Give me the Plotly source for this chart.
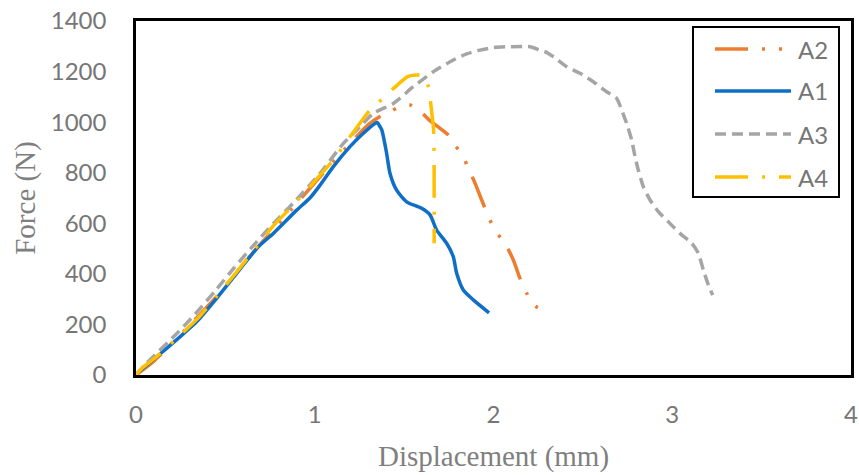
import plotly.graph_objects as go

# Force-displacement curves for four specimens
a1_x = [0, 0.02, 0.116, 0.246, 0.34, 0.451, 0.563, 0.638, 0.684, 0.768, 0.899, 0.973,
        1.029, 1.104, 1.197, 1.272, 1.337, 1.351, 1.365, 1.375, 1.402, 1.421, 1.458,
        1.514, 1.598, 1.645, 1.682, 1.738, 1.775, 1.794, 1.831, 1.887, 1.975]
a1_y = [0, 15, 72, 151, 211, 303, 402, 468, 507, 560, 652, 700, 750, 824, 903, 956,
        995, 998, 982, 969, 877, 797, 731, 685, 659, 633, 573, 521, 468, 402, 336, 297, 246]

a2_x = [0, 0.1, 0.25, 0.45, 0.65, 0.85, 1.0, 1.15, 1.3, 1.36, 1.421, 1.477, 1.533,
        1.593, 1.641, 1.701, 1.747, 1.785, 1.831, 1.859, 1.897, 1.934, 1.98, 2.018,
        2.064, 2.111, 2.148, 2.186, 2.223, 2.256]
a2_y = [0, 55, 160, 310, 480, 640, 760, 880, 990, 1020, 1041, 1062, 1068, 1041, 1008,
        975, 949, 909, 863, 817, 758, 692, 613, 563, 521, 455, 382, 323, 277, 264]

a3_x = [0, 0.05, 0.1, 0.23, 0.33, 0.44, 0.55, 0.66, 0.77, 0.88, 1.029, 1.16, 1.253,
        1.328, 1.44, 1.551, 1.663, 1.775, 1.85, 1.924, 2.0, 2.074, 2.204, 2.26, 2.288,
        2.335, 2.41, 2.484, 2.558, 2.633, 2.689, 2.717, 2.745, 2.773, 2.792, 2.81,
        2.838, 2.876, 2.922, 2.978, 3.043, 3.109, 3.146, 3.174, 3.202, 3.226]
a3_y = [0, 40, 75, 165, 240, 330, 425, 515, 600, 680, 797, 916, 982, 1035, 1074, 1140,
        1199, 1246, 1270, 1285, 1295, 1298, 1298, 1285, 1279, 1259, 1219, 1193, 1160,
        1120, 1094, 1048, 995, 929, 863, 811, 745, 692, 646, 606, 560, 521, 481, 415,
        356, 316]

a4_x = [0, 0.03, 0.12, 0.25, 0.34, 0.45, 0.56, 0.656, 0.768, 0.88, 0.973, 1.104, 1.197,
        1.309, 1.36, 1.44, 1.52, 1.57, 1.607, 1.636, 1.655, 1.665, 1.668, 1.668]
a4_y = [0, 25, 75, 160, 220, 310, 405, 490, 590, 672, 745, 850, 942, 1048, 1080, 1133,
        1180, 1186, 1186, 1140, 1035, 969, 771, 521]

x_ticks = [0, 1, 2, 3, 4]
y_ticks = [0, 200, 400, 600, 800, 1000, 1200, 1400]

ORANGE = "#ED7D31"
BLUE = "#0F6FC6"
GRAY = "#A5A5A5"
YELLOW = "#FFC000"

series = [
    ("A2", a2_x, a2_y, ORANGE, "33px,14px,3px,14px,3px,14px"),
    ("A1", a1_x, a1_y, BLUE, "solid"),
    ("A3", a3_x, a3_y, GRAY, "11px,6px"),
    ("A4", a4_x, a4_y, YELLOW, "33px,14px,3px,14px"),
]

W, H = 859, 475
ML, MR, MT, MB = 136, 8, 21, 100
# plotting box in page pixels, used to place the framed legend
BOX_L, BOX_R, BOX_T, BOX_B = ML, W - MR, MT, H - MB


def px(xp):
    return (xp - BOX_L) / (BOX_R - BOX_L)


def py(yp):
    return (BOX_B - yp) / (BOX_B - BOX_T)


fig = go.Figure()
for name, xs, ys, color, dash in series:
    fig.add_trace(go.Scatter(x=xs, y=ys, mode="lines", name=name, showlegend=False,
                             line=dict(color=color, width=3.5, dash=dash, shape="spline",
                                       smoothing=0.6)))

# Framed legend drawn with shapes and text
shapes = [dict(type="rect", xref="paper", yref="paper",
               x0=px(693), x1=px(839), y0=py(197), y1=py(27),
               line=dict(color="black", width=2), fillcolor="white", layer="above")]
annotations = []
row_y = [49, 91, 134, 177]
for (name, _, _, color, dash), ry in zip(series, row_y):
    shapes.append(dict(type="line", xref="paper", yref="paper",
                       x0=px(715), x1=px(791), y0=py(ry), y1=py(ry),
                       line=dict(color=color, width=3.5, dash=dash), layer="above"))
    annotations.append(dict(xref="paper", yref="paper", x=px(796), y=py(ry),
                            text=name, showarrow=False, xanchor="left", yanchor="middle",
                            font=dict(family="Lato", size=24, color="#767676")))

axis_common = dict(showgrid=False, zeroline=False, showline=True, mirror=True,
                   linecolor="black", linewidth=2.5, ticks="", automargin=False,
                   tickfont=dict(family="Lato", size=24, color="#767676"))

fig.update_layout(
    width=W, height=H,
    margin=dict(l=ML, r=MR, t=MT, b=MB),
    paper_bgcolor="white", plot_bgcolor="white",
    xaxis=dict(range=[0, 4], tickvals=x_ticks, ticklabelstandoff=16,
               title=dict(text="Displacement (mm)", standoff=20,
                          font=dict(family="Liberation Serif", size=29, color="#7f7f7f")),
               **axis_common),
    yaxis=dict(range=[0, 1400], tickvals=y_ticks, ticklabelstandoff=22,
               title=dict(text="Force (N)", standoff=7,
                          font=dict(family="Liberation Serif", size=29, color="#7f7f7f")),
               **axis_common),
    shapes=shapes,
    annotations=annotations,
    showlegend=False,
)

fig.write_html("out.html")
